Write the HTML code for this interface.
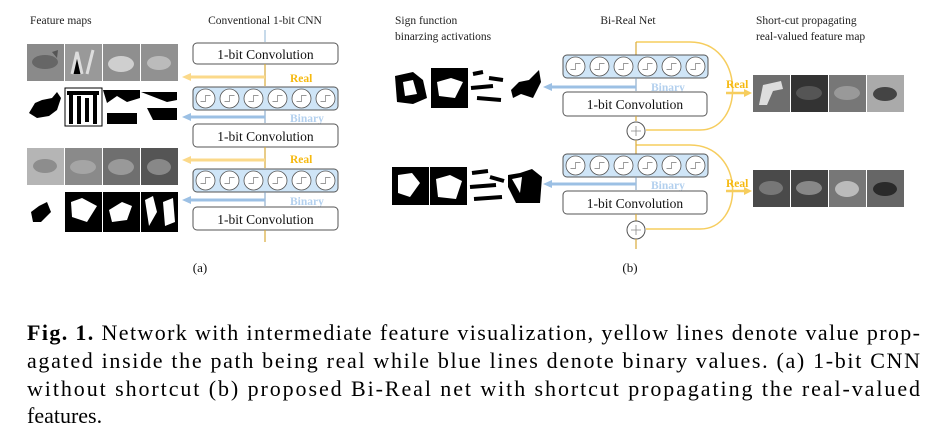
<!DOCTYPE html>
<html><head><meta charset="utf-8"><style>
html,body{margin:0;padding:0;background:#fff;}
svg{display:block;font-family:"Liberation Serif",serif;}
</style></head><body>
<svg width="943" height="439" viewBox="0 0 943 439" xmlns="http://www.w3.org/2000/svg">
<defs>
<g id="sw"><circle r="9.5" fill="#fff" stroke="#555" stroke-width="0.8"/><path d="M-5,3 H0 V-3 H5" fill="none" stroke="#999" stroke-width="0.9"/></g>
<g id="bbox">
<rect x="0" y="0" width="145" height="23" rx="4" fill="#cfe5f7" stroke="#555" stroke-width="1"/>
<use href="#sw" x="12.5" y="11.5"/><use href="#sw" x="36.5" y="11.5"/><use href="#sw" x="60.5" y="11.5"/><use href="#sw" x="84.5" y="11.5"/><use href="#sw" x="108.5" y="11.5"/><use href="#sw" x="132.5" y="11.5"/>
</g>
<g id="gray">
<rect width="37" height="37" fill="#8a8a8a"/><ellipse cx="18" cy="18" rx="13" ry="7" fill="#666"/><path d="M25,8 L31,6 L30,14 Z" fill="#555"/>
<rect x="38" width="37" height="37" fill="#999"/><path d="M45,30 L50,8 L55,30 M60,30 L66,6" stroke="#ddd" stroke-width="3"/>
<rect x="76" width="37" height="37" fill="#8f8f8f"/><ellipse cx="94" cy="20" rx="13" ry="8" fill="#cfcfcf"/>
<rect x="114" width="37" height="37" fill="#919191"/><ellipse cx="132" cy="19" rx="12" ry="7" fill="#bbb"/>
</g>
<g id="gray2">
<rect width="37" height="37" fill="#b5b5b5"/><ellipse cx="18" cy="18" rx="12" ry="7" fill="#8d8d8d"/>
<rect x="38" width="37" height="37" fill="#8a8a8a"/><ellipse cx="56" cy="19" rx="13" ry="7" fill="#a5a5a5"/>
<rect x="76" width="37" height="37" fill="#6f6f6f"/><ellipse cx="94" cy="19" rx="13" ry="8" fill="#999"/>
<rect x="114" width="37" height="37" fill="#555"/><ellipse cx="132" cy="19" rx="12" ry="8" fill="#888"/>
</g>
<g id="bin1">
<path d="M2,25 L8,15 L15,12 L25,10 L30,4 L34,10 L30,22 L22,28 L10,30 Z" fill="#000"/>
<rect x="38" width="37" height="38" fill="#fff" stroke="#000"/><path d="M40,5 H72 M44,5 V36 M52,8 V36 M60,10 V34 M68,6 V36" stroke="#000" stroke-width="4"/>
<path d="M76,2 H113 V10 L100,14 L90,8 L80,15 Z M80,25 H110 V36 H80 Z" fill="#000"/>
<path d="M114,4 H150 V12 L140,14 Z M120,20 H150 V32 H126 Z" fill="#000"/>
</g>
<g id="bin2">
<path d="M4,20 L12,14 L20,10 L24,20 L14,30 L6,30 Z" fill="#000"/>
<rect x="38" width="37" height="40" fill="#000"/><path d="M44,10 L55,6 L70,14 L60,30 L45,25 Z" fill="#fff"/>
<rect x="76" width="37" height="40" fill="#000"/><path d="M82,18 L95,10 L105,14 L100,28 L85,30 Z" fill="#fff"/>
<rect x="114" width="37" height="40" fill="#000"/><path d="M118,8 L126,4 L130,20 L122,34 Z M136,10 L146,6 L148,30 L138,34 Z" fill="#fff"/>
</g>
<g id="binR1">
<path d="M2,8 L20,4 L30,12 L34,30 L20,36 L4,34 Z" fill="#000"/><path d="M10,14 L20,12 L24,26 L12,28 Z" fill="#fff"/>
<rect x="38" width="37" height="40" fill="#000"/><path d="M44,14 L58,10 L70,14 L62,30 L46,28 Z" fill="#fff"/>
<path d="M80,6 L90,4 M78,20 L100,18 M84,30 L108,32 M96,10 L110,12" stroke="#000" stroke-width="4"/>
<path d="M118,22 L126,14 L136,12 L146,2 L148,14 L140,30 L128,26 L120,30 Z" fill="#000"/>
</g>
<g id="binR2">
<rect width="37" height="38" fill="#000"/><path d="M6,8 L20,6 L28,16 L18,30 L6,26 Z" fill="#fff"/>
<rect x="38" width="37" height="38" fill="#000"/><path d="M44,12 L58,8 L70,14 L64,32 L46,30 Z" fill="#fff"/>
<path d="M80,6 L96,4 M78,20 L104,18 M82,32 L110,30 M98,10 L112,14" stroke="#000" stroke-width="4"/>
<path d="M116,8 L128,6 L140,2 L150,10 L148,36 L124,36 L116,20 Z" fill="#000"/><path d="M120,12 L130,10 L128,26 Z" fill="#fff"/>
</g>
<g id="grayR1">
<rect width="37" height="37" fill="#6e6e6e"/><path d="M6,30 L10,10 L28,6 L30,14 L20,16 L14,30 Z" fill="#ddd"/>
<rect x="38" width="37" height="37" fill="#333"/><ellipse cx="56" cy="18" rx="13" ry="7" fill="#555"/>
<rect x="76" width="37" height="37" fill="#777"/><ellipse cx="94" cy="18" rx="13" ry="7" fill="#999"/>
<rect x="114" width="37" height="37" fill="#aaa"/><ellipse cx="132" cy="19" rx="12" ry="7" fill="#444"/>
</g>
<g id="grayR2">
<rect width="37" height="37" fill="#4a4a4a"/><ellipse cx="18" cy="18" rx="12" ry="7" fill="#777"/>
<rect x="38" width="37" height="37" fill="#444"/><ellipse cx="56" cy="18" rx="13" ry="7" fill="#888"/>
<rect x="76" width="37" height="37" fill="#777"/><ellipse cx="94" cy="19" rx="12" ry="8" fill="#bbb"/>
<rect x="114" width="37" height="37" fill="#666"/><ellipse cx="132" cy="19" rx="12" ry="7" fill="#2a2a2a"/>
</g>
</defs>

<!-- (a) -->
<text x="30" y="24" font-size="11.5" fill="#222">Feature maps</text>
<text x="265" y="24" font-size="11.5" fill="#222" text-anchor="middle">Conventional 1-bit CNN</text>
<use href="#gray" x="27" y="44"/>
<use href="#bin1" x="27" y="88"/>
<use href="#gray2" x="27" y="148"/>
<use href="#bin2" x="27" y="192"/>

<line x1="265" y1="30" x2="265" y2="42" stroke="#8fb4d6" stroke-width="1"/>
<rect x="193" y="43" width="145" height="21" rx="4" fill="#fff" stroke="#555"/>
<text x="265.5" y="59" font-size="13.5" text-anchor="middle" fill="#111">1-bit Convolution</text>
<line x1="265" y1="64" x2="265" y2="86" stroke="#d9aa3a" stroke-width="1.2"/>
<line x1="265" y1="77" x2="190" y2="77" stroke="#fbd98a" stroke-width="3"/>
<path d="M182,77 L191,73 L191,81 Z" fill="#fbd98a"/>
<text x="290" y="82" font-size="11.5" font-weight="bold" fill="#f6b90f">Real</text>
<use href="#bbox" x="193" y="87"/>
<line x1="265" y1="110" x2="265" y2="123" stroke="#7a9cc0" stroke-width="1"/>
<line x1="265" y1="117" x2="190" y2="117" stroke="#9cc0e4" stroke-width="3"/>
<path d="M182,117 L191,113 L191,121 Z" fill="#9cc0e4"/>
<text x="290" y="122" font-size="11.5" font-weight="bold" fill="#b3d0ee">Binary</text>
<rect x="193" y="124" width="145" height="23" rx="4" fill="#fff" stroke="#555"/>
<text x="265.5" y="141" font-size="13.5" text-anchor="middle" fill="#111">1-bit Convolution</text>
<line x1="265" y1="147" x2="265" y2="168" stroke="#d9aa3a" stroke-width="1.2"/>
<line x1="265" y1="160" x2="190" y2="160" stroke="#fbd98a" stroke-width="3"/>
<path d="M182,160 L191,156 L191,164 Z" fill="#fbd98a"/>
<text x="290" y="163" font-size="11.5" font-weight="bold" fill="#f6b90f">Real</text>
<use href="#bbox" x="193" y="169"/>
<line x1="265" y1="192" x2="265" y2="206" stroke="#7a9cc0" stroke-width="1"/>
<line x1="265" y1="200" x2="190" y2="200" stroke="#9cc0e4" stroke-width="3"/>
<path d="M182,200 L191,196 L191,204 Z" fill="#9cc0e4"/>
<text x="290" y="205" font-size="11.5" font-weight="bold" fill="#b3d0ee">Binary</text>
<rect x="193" y="207" width="145" height="23" rx="4" fill="#fff" stroke="#555"/>
<text x="265.5" y="224" font-size="13.5" text-anchor="middle" fill="#111">1-bit Convolution</text>
<line x1="265" y1="230" x2="265" y2="242" stroke="#d9aa3a" stroke-width="1.2"/>
<text x="200" y="272" font-size="13" text-anchor="middle" fill="#111">(a)</text>

<!-- (b) -->
<text x="395" y="24" font-size="11.5" fill="#222">Sign function</text>
<text x="395" y="40" font-size="11.5" fill="#222">binarzing activations</text>
<text x="628" y="24" font-size="11.5" fill="#222" text-anchor="middle">Bi-Real Net</text>
<text x="756" y="24" font-size="11.5" fill="#222">Short-cut propagating</text>
<text x="756" y="40" font-size="11.5" fill="#222">real-valued feature map</text>

<use href="#binR1" x="393" y="68"/>
<use href="#binR2" x="392" y="167"/>
<use href="#grayR1" x="753" y="75"/>
<use href="#grayR2" x="753" y="170"/>

<path d="M636,42 H690 C745,42 745,130 700,130 H646" fill="none" stroke="#f6cd5e" stroke-width="1.5"/>
<path d="M636,145 H690 C745,145 745,229 700,229 H646" fill="none" stroke="#f6cd5e" stroke-width="1.5"/>
<line x1="636" y1="42" x2="636" y2="55" stroke="#d9aa3a" stroke-width="1.2"/>
<use href="#bbox" x="563" y="55"/>
<line x1="636" y1="78" x2="636" y2="91" stroke="#7a9cc0" stroke-width="1"/>
<line x1="636" y1="87" x2="551" y2="87" stroke="#9cc0e4" stroke-width="3"/>
<path d="M543,87 L552,83 L552,91 Z" fill="#9cc0e4"/>
<text x="651" y="91" font-size="11.5" font-weight="bold" fill="#b3d0ee">Binary</text>
<rect x="563" y="92" width="144" height="24" rx="4" fill="#fff" stroke="#555"/>
<text x="635" y="109" font-size="13.5" text-anchor="middle" fill="#111">1-bit Convolution</text>
<line x1="636" y1="116" x2="636" y2="121" stroke="#d9aa3a" stroke-width="1.2"/>
<circle cx="636" cy="131" r="9" fill="#fff" stroke="#555"/>
<path d="M631,131 H641 M636,126 V136" stroke="#888" stroke-width="0.8"/>
<line x1="636" y1="140" x2="636" y2="154" stroke="#d9aa3a" stroke-width="1.2"/>
<line x1="726" y1="93" x2="745" y2="93" stroke="#f6cd5e" stroke-width="2.5"/>
<path d="M752,93 L744,89 L744,97 Z" fill="#f6cd5e"/>
<text x="726" y="88" font-size="11.5" font-weight="bold" fill="#f6b90f">Real</text>

<use href="#bbox" x="563" y="154"/>
<line x1="636" y1="177" x2="636" y2="190" stroke="#7a9cc0" stroke-width="1"/>
<line x1="636" y1="184" x2="551" y2="184" stroke="#9cc0e4" stroke-width="3"/>
<path d="M543,184 L552,180 L552,188 Z" fill="#9cc0e4"/>
<text x="651" y="189" font-size="11.5" font-weight="bold" fill="#b3d0ee">Binary</text>
<rect x="563" y="191" width="144" height="23" rx="4" fill="#fff" stroke="#555"/>
<text x="635" y="208" font-size="13.5" text-anchor="middle" fill="#111">1-bit Convolution</text>
<line x1="636" y1="214" x2="636" y2="221" stroke="#d9aa3a" stroke-width="1.2"/>
<circle cx="636" cy="230" r="9" fill="#fff" stroke="#555"/>
<path d="M631,230 H641 M636,225 V235" stroke="#888" stroke-width="0.8"/>
<line x1="636" y1="239" x2="636" y2="249" stroke="#d9aa3a" stroke-width="1.2"/>
<line x1="726" y1="191" x2="745" y2="191" stroke="#f6cd5e" stroke-width="2.5"/>
<path d="M752,191 L744,187 L744,195 Z" fill="#f6cd5e"/>
<text x="726" y="187" font-size="11.5" font-weight="bold" fill="#f6b90f">Real</text>
<text x="630" y="272" font-size="13" text-anchor="middle" fill="#111">(b)</text>

<!-- caption -->
<text x="27" y="340" font-size="22" fill="#000" textLength="893" lengthAdjust="spacing"><tspan font-weight="bold">Fig. 1.</tspan> Network with intermediate feature visualization, yellow lines denote value prop-</text>
<text x="27" y="368" font-size="22" fill="#000" textLength="893" lengthAdjust="spacing">agated inside the path being real while blue lines denote binary values. (a) 1-bit CNN</text>
<text x="27" y="396" font-size="22" fill="#000" textLength="893" lengthAdjust="spacing">without shortcut (b) proposed Bi-Real net with shortcut propagating the real-valued</text>
<text x="27" y="423" font-size="22" fill="#000">features.</text>
</svg>
</body></html>
